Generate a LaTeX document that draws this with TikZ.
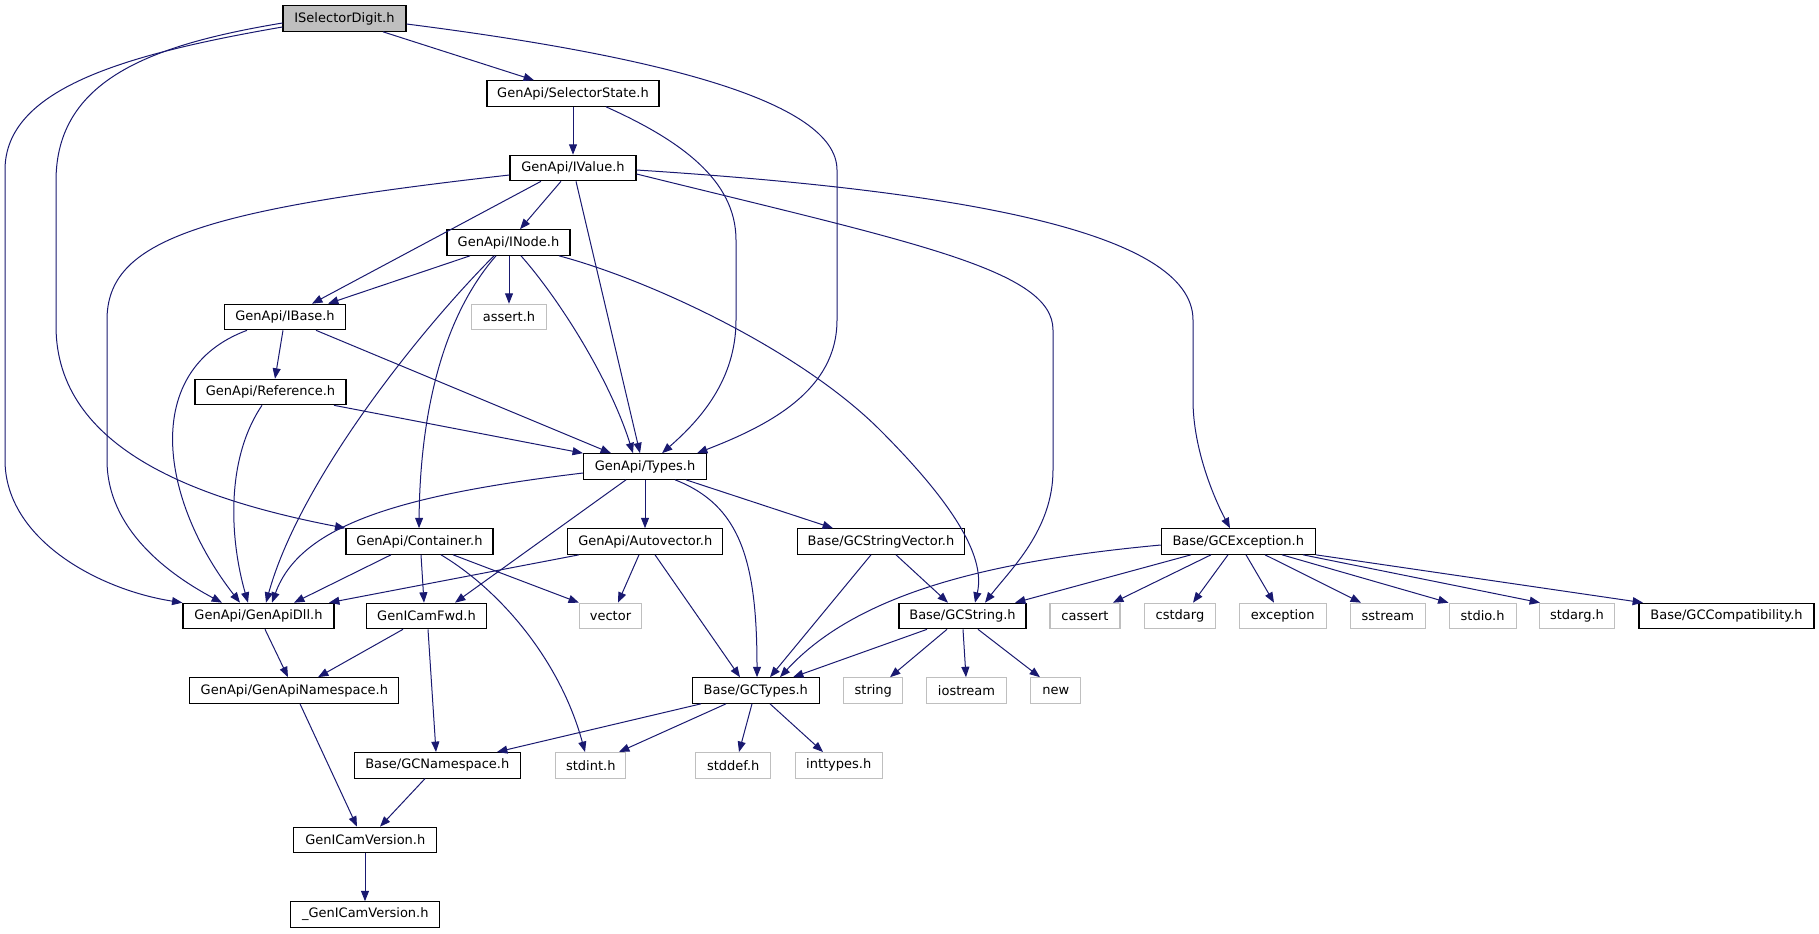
\documentclass[tikz,border=0pt]{standalone}
\usepackage{fontspec}
\setmainfont{DejaVu Sans}
\usetikzlibrary{arrows.meta}
\definecolor{edgec}{HTML}{191970}
\definecolor{extc}{HTML}{BFBFBF}
\begin{document}
\begin{tikzpicture}[x=0.75pt,y=-0.75pt,
  box/.style={draw=black, line width=0.85pt, fill=white, minimum height=25.5*0.75pt, inner sep=0pt,
    font=\fontsize{9.75}{11}\selectfont, minimum width=#1*0.75pt},
  ext/.style={box=#1, draw=extc},
  root/.style={box=#1, fill=extc},
  e/.style={draw=edgec, line width=0.75pt, -{Triangle[length=7.8pt,width=6pt]}}]
\useasboundingbox (0,0) rectangle (1819,933);
% nodes
\node[root=123] (sel) at (344.5,18.5) {ISelectorDigit.h};
\node[box=172] (sst) at (573,93.5) {GenApi/SelectorState.h};
\node[box=126] (ival) at (573,168) {GenApi/IValue.h};
\node[box=123] (inode) at (508.5,242.5) {GenApi/INode.h};
\node[box=121] (ibase) at (285,317) {GenApi/IBase.h};
\node[ext=75] (assert) at (509,317) {assert.h};
\node[box=151] (ref) at (270.5,392) {GenApi/Reference.h};
\node[box=123] (types) at (645,466.5) {GenApi/Types.h};
\node[box=147] (cont) at (419.5,541.5) {GenApi/Container.h};
\node[box=155] (autov) at (645.3,541.5) {GenApi/Autovector.h};
\node[box=167] (gcsv) at (881,541.5) {Base/GCStringVector.h};
\node[box=154] (gcexc) at (1238.3,541.5) {Base/GCException.h};
\node[box=151] (dll) at (258.5,616) {GenApi/GenApiDll.h};
\node[box=120] (fwd) at (426.5,616) {GenICamFwd.h};
\node[ext=62] (vector) at (610.5,616) {vector};
\node[box=127] (gcstr) at (962.5,616) {Base/GCString.h};
\node[ext=70] (cassert) at (1085,616) {cassert};
\node[ext=71] (cstdarg) at (1180,616) {cstdarg};
\node[ext=87] (exception) at (1282.7,616) {exception};
\node[ext=75] (sstream) at (1387.8,616) {sstream};
\node[ext=67] (stdio) at (1482.6,616) {stdio.h};
\node[ext=75] (stdarg) at (1577,616) {stdarg.h};
\node[box=175] (gccompat) at (1726.5,616) {Base/GCCompatibility.h};
\node[box=209] (gans) at (294.4,690.5) {GenApi/GenApiNamespace.h};
\node[box=127] (gctypes) at (755.8,690.5) {Base/GCTypes.h};
\node[ext=59] (string) at (873.3,690.5) {string};
\node[ext=80] (iostream) at (966.5,690.5) {iostream};
\node[ext=50] (new) at (1055.8,690.5) {new};
\node[box=166] (gcns) at (437.3,765.3) {Base/GCNamespace.h};
\node[ext=70] (stdint) at (590.8,765.3) {stdint.h};
\node[ext=75] (stddef) at (733.2,765.3) {stddef.h};
\node[ext=87] (inttypes) at (838.7,765.3) {inttypes.h};
\node[box=143] (gcver) at (365.3,840) {GenICamVersion.h};
\node[box=149] (gcvu) at (365.3,914.5) {\_GenICamVersion.h};
% edges
\draw[e] (sel.south -| 383,0) -- (sst.north -| 534,0);
\draw[e] (sel.east |- 0,24) .. controls (650,55) and (837,100) .. (837,170) -- (837,320) .. controls (837,390) and (770,425) .. (types.north -| 697,0);
\draw[e] (sel.west |- 0,27) .. controls (120,55) and (5,90) .. (5,170) -- (5,460) .. controls (5,540) and (100,590) .. (dll.north west);
\draw[e] (sel.west |- 0,23) .. controls (150,45) and (56,80) .. (56,181) -- (56,326) .. controls (56,450) and (200,500) .. (cont.north west);
\draw[e] (sst.south -| 573,0) -- (ival.north -| 573,0);
\draw[e] (sst.south -| 606,0) .. controls (680,140) and (736,180) .. (736,240) -- (736,320) .. controls (736,380) and (700,420) .. (types.north -| 662,0);
\draw[e] (ival.south -| 561,0) -- (inode.north -| 520,0);
\draw[e] (ival.south -| 541,0) -- (ibase.north -| 312,0);
\draw[e] (ival.south -| 576,0) -- (types.north -| 640,0);
\draw[e] (ival.west |- 0,175) .. controls (200,210) and (107,240) .. (107,320) -- (107,460) .. controls (107,530) and (170,575) .. (dll.north -| 222,0);
\draw[e] (ival.east |- 0,174) .. controls (916,243) and (1053,270) .. (1053,330) -- (1053,470) .. controls (1053,530) and (1010,570) .. (gcstr.north -| 985,0);
\draw[e] (ival.east |- 0,170) .. controls (950,190) and (1193,230) .. (1193,320) -- (1193,400) .. controls (1193,450) and (1215,500) .. (gcexc.north -| 1230,0);
\draw[e] (inode.south -| 470,0) -- (ibase.north -| 328,0);
\draw[e] (inode.south -| 509,0) -- (assert.north -| 509,0);
\draw[e] (inode.south -| 521,0) .. controls (560,300) and (610,380) .. (types.north -| 633,0);
\draw[e] (inode.south -| 494,0) .. controls (420,330) and (300,480) .. (dll.north -| 266,0);
\draw[e] (inode.south -| 496,0) .. controls (440,320) and (420,420) .. (cont.north -| 419,0);
\draw[e] (inode.south -| 559,0) .. controls (650,280) and (800,350) .. (880,430) .. controls (960,510) and (985,560) .. (gcstr.north -| 975,0);
\draw[e] (ibase.south -| 283,0) -- (ref.north -| 275,0);
\draw[e] (ibase.south -| 316,0) -- (types.north -| 611,0);
\draw[e] (ibase.south -| 247,0) .. controls (140,370) and (160,500) .. (dll.north -| 240,0);
\draw[e] (ref.south -| 334,0) -- (types.north west);
\draw[e] (ref.south -| 262,0) .. controls (225,460) and (230,540) .. (dll.north -| 248,0);
\draw[e] (types.west |- 0,473) .. controls (400,495) and (300,525) .. (dll.north -| 272,0);
\draw[e] (types.south -| 626,0) -- (fwd.north -| 455,0);
\draw[e] (types.south -| 645,0) -- (autov.north -| 645,0);
\draw[e] (types.south -| 686,0) -- (gcsv.north -| 833,0);
\draw[e] (types.south -| 675,0) .. controls (740,505) and (757,560) .. (gctypes.north -| 757,0);
\draw[e] (cont.south -| 391,0) -- (dll.north -| 294,0);
\draw[e] (cont.south -| 421,0) -- (fwd.north -| 424,0);
\draw[e] (cont.south -| 453,0) -- (vector.north west);
\draw[e] (cont.south -| 441,0) .. controls (500,590) and (560,660) .. (stdint.north -| 585,0);
\draw[e] (autov.south -| 579,0) -- (dll.north -| 329,0);
\draw[e] (autov.south -| 639,0) -- (vector.north -| 618,0);
\draw[e] (autov.south -| 655,0) -- (gctypes.north -| 740,0);
\draw[e] (gcsv.south -| 896,0) -- (gcstr.north -| 948,0);
\draw[e] (gcsv.south -| 871,0) -- (gctypes.north -| 770,0);
\draw[e] (gcexc.west |- 0,545) .. controls (1000,560) and (860,590) .. (gctypes.north -| 780,0);
\draw[e] (gcexc.south -| 1191,0) -- (gcstr.north -| 1015,0);
\draw[e] (gcexc.south -| 1211,0) -- (cassert.north -| 1113,0);
\draw[e] (gcexc.south -| 1228,0) -- (cstdarg.north -| 1193,0);
\draw[e] (gcexc.south -| 1246,0) -- (exception.north -| 1274,0);
\draw[e] (gcexc.south -| 1265,0) -- (sstream.north -| 1361,0);
\draw[e] (gcexc.south -| 1282,0) -- (stdio.north west);
\draw[e] (gcexc.south -| 1303,0) -- (stdarg.north -| 1540,0);
\draw[e] (gcexc.south east) -- (gccompat.north -| 1643,0);
\draw[e] (gcstr.south -| 927,0) -- (gctypes.north -| 793,0);
\draw[e] (gcstr.south -| 947,0) -- (string.north -| 890,0);
\draw[e] (gcstr.south -| 963,0) -- (iostream.north -| 966,0);
\draw[e] (gcstr.south -| 978,0) -- (new.north -| 1040,0);
\draw[e] (dll.south -| 265,0) -- (gans.north -| 288,0);
\draw[e] (fwd.south -| 403,0) -- (gans.north -| 318,0);
\draw[e] (fwd.south -| 428,0) -- (gcns.north -| 436,0);
\draw[e] (gans.south -| 300,0) -- (gcver.north -| 357,0);
\draw[e] (gcns.south -| 425,0) -- (gcver.north -| 380,0);
\draw[e] (gctypes.south -| 701,0) -- (gcns.north -| 497,0);
\draw[e] (gctypes.south -| 726,0) -- (stdint.north -| 619,0);
\draw[e] (gctypes.south -| 752,0) -- (stddef.north -| 739,0);
\draw[e] (gctypes.south -| 770,0) -- (inttypes.north -| 823,0);
\draw[e] (gcver.south -| 365,0) -- (gcvu.north -| 365,0);
\end{tikzpicture}
\end{document}
